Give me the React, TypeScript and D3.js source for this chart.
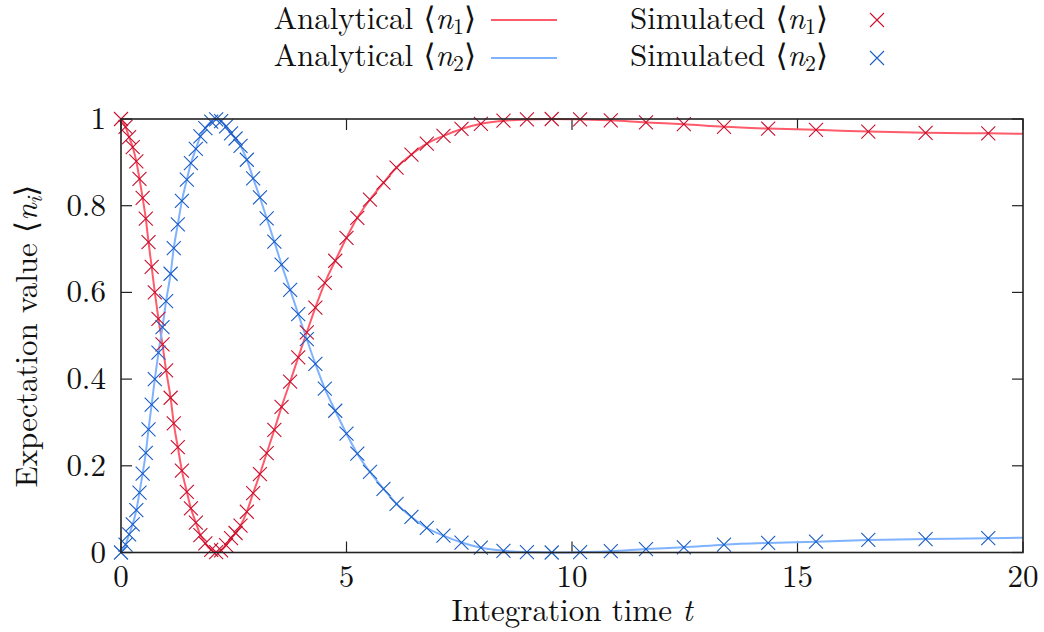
import React from "react";
import * as d3 from "d3";

// Simulated sample times (adaptive step) and values
const tSim = [0, 0.1, 0.18, 0.26, 0.34, 0.41, 0.48, 0.55, 0.61, 0.68, 0.75, 0.83, 0.92, 1.0, 1.1, 1.17, 1.26, 1.35, 1.46, 1.55, 1.66, 1.76, 1.87, 2.0, 2.11, 2.22, 2.33, 2.44, 2.54, 2.65, 2.79, 2.93, 3.08, 3.23, 3.4, 3.56, 3.75, 3.93, 4.12, 4.31, 4.52, 4.75, 5.0, 5.24, 5.52, 5.82, 6.11, 6.44, 6.78, 7.15, 7.55, 7.98, 8.48, 9.0, 9.55, 10.18, 10.86, 11.64, 12.48, 13.37, 14.35, 15.41, 16.57, 17.84, 19.23];
const n1Sim = [1.0, 0.982, 0.958, 0.935, 0.902, 0.862, 0.818, 0.77, 0.716, 0.659, 0.6, 0.539, 0.48, 0.42, 0.357, 0.298, 0.243, 0.189, 0.14, 0.102, 0.069, 0.04, 0.021, 0.006, 0.001, 0.005, 0.017, 0.033, 0.045, 0.062, 0.094, 0.137, 0.181, 0.229, 0.283, 0.336, 0.394, 0.45, 0.508, 0.565, 0.622, 0.673, 0.726, 0.772, 0.814, 0.853, 0.888, 0.918, 0.943, 0.961, 0.977, 0.989, 0.996, 0.999, 1.0, 0.999, 0.997, 0.992, 0.988, 0.982, 0.978, 0.975, 0.971, 0.968, 0.967];
const n2Sim = [0.0, 0.018, 0.042, 0.065, 0.098, 0.138, 0.182, 0.23, 0.284, 0.341, 0.4, 0.461, 0.52, 0.58, 0.643, 0.702, 0.757, 0.811, 0.86, 0.898, 0.931, 0.96, 0.979, 0.994, 0.999, 0.995, 0.983, 0.967, 0.955, 0.938, 0.906, 0.863, 0.819, 0.771, 0.717, 0.664, 0.606, 0.55, 0.492, 0.435, 0.378, 0.327, 0.274, 0.228, 0.186, 0.147, 0.112, 0.082, 0.057, 0.039, 0.023, 0.011, 0.004, 0.001, 0.0, 0.001, 0.003, 0.008, 0.012, 0.018, 0.022, 0.025, 0.029, 0.031, 0.033];

// Analytical curves: same samples plus the end point at t = 20
const tLine = [...tSim, 20];
const n1Line = [...n1Sim, 0.966];
const n2Line = [...n2Sim, 0.034];

const xTicks = [0, 5, 10, 15, 20];
const yTicks = [0, 0.2, 0.4, 0.6, 0.8, 1];
const yTickLabels = ["0", "0.2", "0.4", "0.6", "0.8", "1"];

const W = 1044;
const H = 632;
const FONT = '"Latin Modern Roman", "CMU Serif", "Liberation Serif", "Times New Roman", Tinos, "DejaVu Serif", serif';
const FS = 31;

const RED_LINE = "#ff5b6b";
const RED_PT = "#c8102e";
const BLUE_LINE = "#7fb2ff";
const BLUE_PT = "#1a5cc4";

function Cross({ x, y, color, r = 7 }: { x: number; y: number; color: string; r?: number }) {
  return (
    <path
      d={`M${x - r},${y - r}L${x + r},${y + r}M${x - r},${y + r}L${x + r},${y - r}`}
      stroke={color}
      strokeWidth={1.1}
      fill="none"
    />
  );
}

function MathN({ sub }: { sub: string }) {
  return (
    <>
      <tspan>{"\u27E8"}</tspan>
      <tspan fontStyle="italic">n</tspan>
      <tspan fontSize={FS * 0.7} dy={5}>{sub}</tspan>
      <tspan dy={-5}>{"\u27E9"}</tspan>
    </>
  );
}

export default function App() {
  const x = d3.scaleLinear().domain([0, 20]).range([121, 1023]);
  const y = d3.scaleLinear().domain([0, 1]).range([552.5, 119]);
  const line = d3
    .line<[number, number]>()
    .x((d) => x(d[0]))
    .y((d) => y(d[1]))
    .curve(d3.curveMonotoneX);

  const l1 = line(tLine.map((t, i) => [t, n1Line[i]]) as [number, number][]) || "";
  const l2 = line(tLine.map((t, i) => [t, n2Line[i]]) as [number, number][]) || "";

  const [x0, x1] = x.range();
  const [y0, y1] = y.range();
  const tick = 11;

  return (
    <svg
      width={W}
      height={H}
      style={{ position: "absolute", left: 0, top: 0, background: "#fff", fontFamily: FONT, fontSize: FS }}
    >
      <rect x={0} y={0} width={W} height={H} fill="#fff" />
      {/* ticks */}
      {yTicks.map((v) => (
        <g key={"yt" + v}>
          <line x1={x0} x2={x0 + tick} y1={y(v)} y2={y(v)} stroke="#222" strokeWidth={1.2} />
          <line x1={x1} x2={x1 - tick} y1={y(v)} y2={y(v)} stroke="#222" strokeWidth={1.2} />
        </g>
      ))}
      {xTicks.map((v) => (
        <g key={"xt" + v}>
          <line x1={x(v)} x2={x(v)} y1={y0} y2={y0 - tick} stroke="#222" strokeWidth={1.2} />
          <line x1={x(v)} x2={x(v)} y1={y1} y2={y1 + tick} stroke="#222" strokeWidth={1.2} />
        </g>
      ))}
      {/* curves */}
      <path d={l1} stroke={RED_LINE} strokeWidth={2} fill="none" />
      <path d={l2} stroke={BLUE_LINE} strokeWidth={2} fill="none" />
      {tSim.map((t, i) => (
        <Cross key={"r" + i} x={x(t)} y={y(n1Sim[i])} color={RED_PT} />
      ))}
      {tSim.map((t, i) => (
        <Cross key={"b" + i} x={x(t)} y={y(n2Sim[i])} color={BLUE_PT} />
      ))}
      {/* frame */}
      <rect x={x0} y={y1} width={x1 - x0} height={y0 - y1} fill="none" stroke="#222" strokeWidth={1.6} />
      {/* tick labels */}
      {yTicks.map((v, i) => (
        <text key={"yl" + v} x={106} y={y(v) + 10} textAnchor="end" fill="#111">
          {yTickLabels[i]}
        </text>
      ))}
      {xTicks.map((v) => (
        <text key={"xl" + v} x={x(v)} y={587} textAnchor="middle" fill="#111">
          {v}
        </text>
      ))}
      {/* axis titles */}
      <text x={572} y={621} textAnchor="middle" fill="#111">
        Integration time <tspan fontStyle="italic">t</tspan>
      </text>
      <text transform="translate(37,336) rotate(-90)" textAnchor="middle" fill="#111">
        Expectation value {"\u27E8"}
        <tspan fontStyle="italic">n</tspan>
        <tspan fontSize={FS * 0.7} fontStyle="italic" dy={5}>i</tspan>
        <tspan dy={-5}>{"\u27E9"}</tspan>
      </text>
      {/* legend */}
      <text x={476} y={29} textAnchor="end" fill="#111">
        Analytical <MathN sub="1" />
      </text>
      <line x1={491} x2={557} y1={20} y2={20} stroke={RED_LINE} strokeWidth={2} />
      <text x={828} y={29} textAnchor="end" fill="#111">
        Simulated <MathN sub="1" />
      </text>
      <Cross x={877} y={20} color={RED_PT} r={7} />
      <text x={476} y={66} textAnchor="end" fill="#111">
        Analytical <MathN sub="2" />
      </text>
      <line x1={491} x2={557} y1={58} y2={58} stroke={BLUE_LINE} strokeWidth={2} />
      <text x={828} y={66} textAnchor="end" fill="#111">
        Simulated <MathN sub="2" />
      </text>
      <Cross x={877} y={58} color={BLUE_PT} r={7} />
    </svg>
  );
}
